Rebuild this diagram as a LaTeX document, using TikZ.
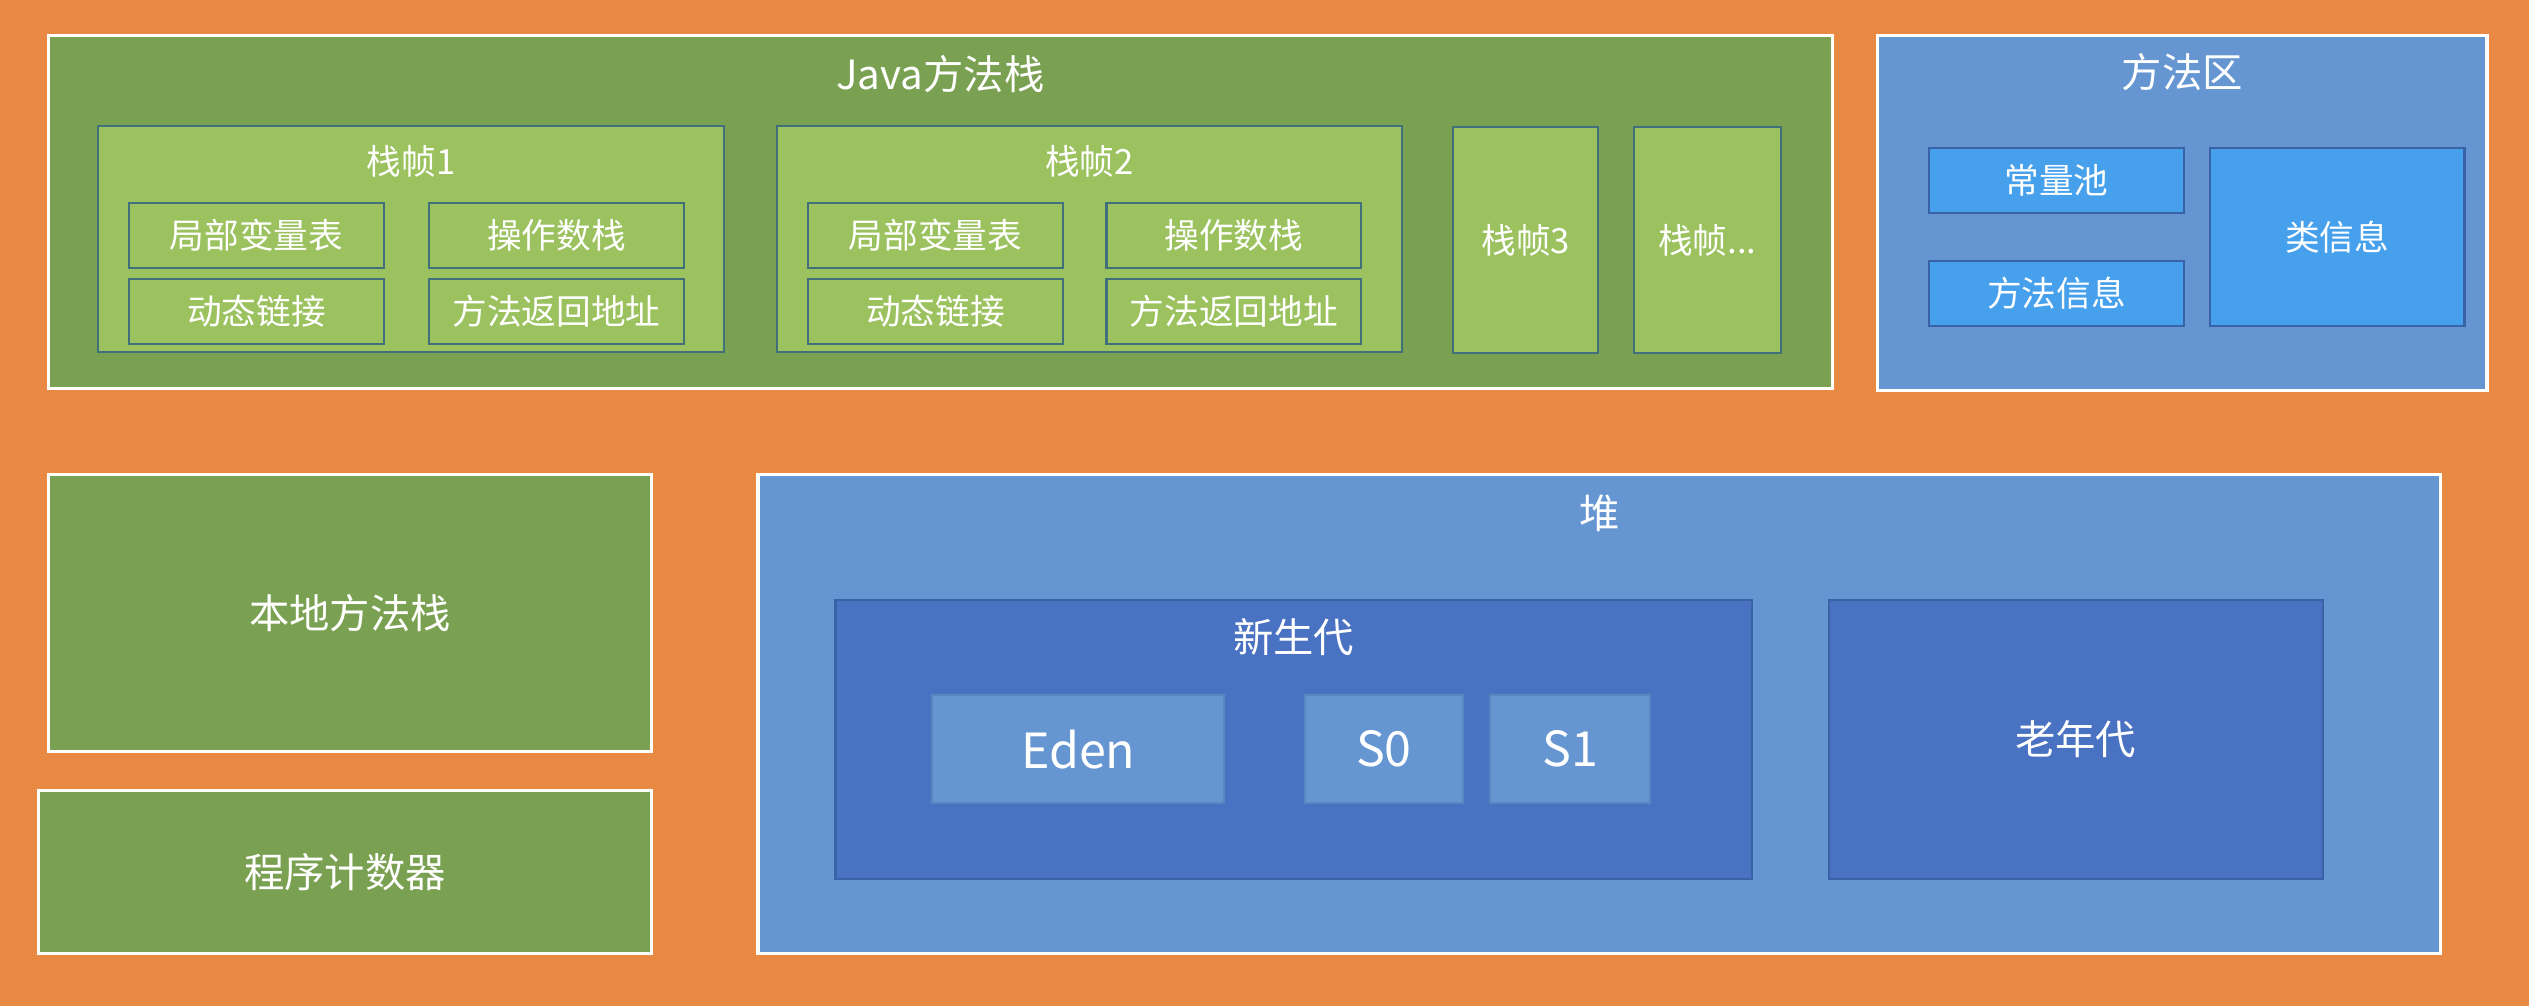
\documentclass[tikz,border=0pt]{standalone}
\usepackage{fontspec}
\setmainfont{Noto Sans CJK SC}
\definecolor{bgorange}{HTML}{E88A44}
\definecolor{gdark}{HTML}{7AA151}
\definecolor{glight}{HTML}{9BC25E}
\definecolor{gline}{HTML}{41707C}
\definecolor{bmid}{HTML}{6596D2}
\definecolor{bbright}{HTML}{46A0EC}
\definecolor{bdeep}{HTML}{4A72C2}
\definecolor{bline}{HTML}{3A62A6}
\definecolor{bline2}{HTML}{5A86C0}
\tikzset{
  outerbox/.style={draw=white, line width=2pt, inner sep=0pt},
  innerbox/.style={draw=#1, line width=1.3pt, inner sep=0pt},
  titletxt/.style={text=white, font=\fontsize{25}{28}\selectfont, inner sep=0pt},
  smalltxt/.style={text=white, font=\fontsize{21.5}{24}\selectfont},
  bigtxt/.style={text=white, font=\fontsize{30}{34}\selectfont},
  sz/.style 2 args={minimum width=#1pt, minimum height=#2pt}
}
\begin{document}
\begin{tikzpicture}[x=1pt,y=-1pt]
\useasboundingbox (0,0) rectangle (1568,624);
\fill[bgorange] (0,0) rectangle (1568,624);

% Java method stack
\node[outerbox, fill=gdark, sz={1106}{219}] (jstack) at (583,131.5) {};
\node[titletxt] (jstackt) at (583,46) {Java方法栈};

\node[innerbox=gline, fill=glight, sz={388}{140}] (f1) at (255,148) {};
\node[titletxt, font=\fontsize{21.5}{24}\selectfont] (f1t) at (255,100) {栈帧1};
\node[innerbox=gline, fill=glight, sz={158}{40}, smalltxt] (f1a) at (159,146) {局部变量表};
\node[innerbox=gline, fill=glight, sz={158}{40}, smalltxt] (f1b) at (345,146) {操作数栈};
\node[innerbox=gline, fill=glight, sz={158}{40}, smalltxt] (f1c) at (159,193) {动态链接};
\node[innerbox=gline, fill=glight, sz={158}{40}, smalltxt] (f1d) at (345,193) {方法返回地址};

\node[innerbox=gline, fill=glight, sz={387}{140}] (f2) at (675.5,148) {};
\node[titletxt, font=\fontsize{21.5}{24}\selectfont] (f2t) at (675.5,100) {栈帧2};
\node[innerbox=gline, fill=glight, sz={158}{40}, smalltxt] (f2a) at (580,146) {局部变量表};
\node[innerbox=gline, fill=glight, sz={158}{40}, smalltxt] (f2b) at (765,146) {操作数栈};
\node[innerbox=gline, fill=glight, sz={158}{40}, smalltxt] (f2c) at (580,193) {动态链接};
\node[innerbox=gline, fill=glight, sz={158}{40}, smalltxt] (f2d) at (765,193) {方法返回地址};

\node[innerbox=gline, fill=glight, sz={90}{140}, smalltxt] (f3) at (946,149) {栈帧3};
\node[innerbox=gline, fill=glight, sz={91}{140}, smalltxt] (f4) at (1058.5,149) {栈帧...};

% Method area
\node[outerbox, fill=bmid, sz={378}{220}] (ma) at (1353,132) {};
\node[titletxt] (mat) at (1353,45) {方法区};
\node[innerbox=bline, fill=bbright, sz={158}{40}, smalltxt] (pool) at (1275,112) {常量池};
\node[innerbox=bline, fill=bbright, sz={158}{40}, smalltxt] (minfo) at (1275,182) {方法信息};
\node[innerbox=bline, fill=bbright, sz={158}{110}, smalltxt] (cinfo) at (1449,147) {类信息};

% Native stack and PC
\node[outerbox, fill=gdark, sz={374}{172}, titletxt] (native) at (217,380) {本地方法栈};
\node[outerbox, fill=gdark, sz={380}{101}, titletxt] (pc) at (214,540.5) {程序计数器};

% Heap
\node[outerbox, fill=bmid, sz={1043}{297}] (heap) at (991.5,442.5) {};
\node[titletxt] (heapt) at (991.5,318) {堆};
\node[innerbox=bline, fill=bdeep, sz={568}{173}] (young) at (802,458.5) {};
\node[titletxt] (youngt) at (802,395) {新生代};
\node[innerbox=bline2, fill=bmid, sz={181}{67}, bigtxt] (eden) at (668.5,464.5) {Eden};
\node[innerbox=bline2, fill=bmid, sz={98}{67}, bigtxt] (s0) at (858,464.5) {S0};
\node[innerbox=bline2, fill=bmid, sz={99}{67}, bigtxt] (s1) at (973.5,464.5) {S1};
\node[innerbox=bline, fill=bdeep, sz={306}{173}, titletxt] (old) at (1287,458.5) {老年代};
\end{tikzpicture}
\end{document}
